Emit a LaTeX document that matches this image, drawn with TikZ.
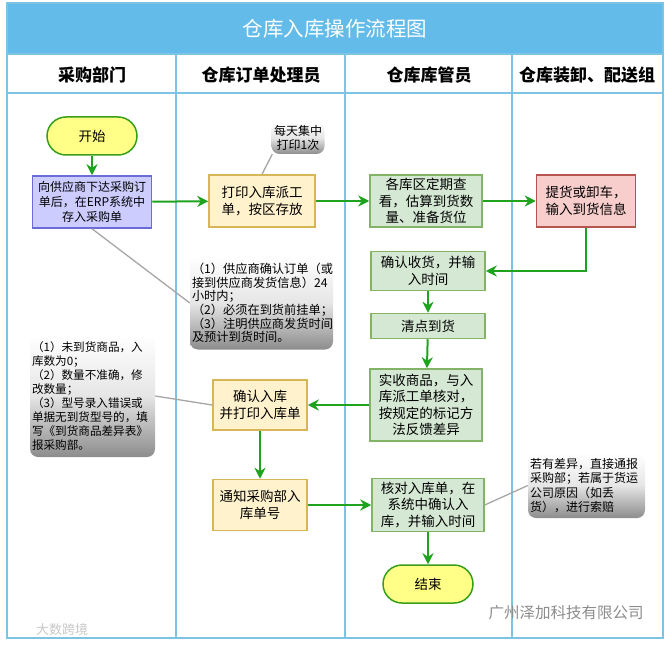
\documentclass[tikz,border=0pt]{standalone}
\usepackage{fontspec}
\setmainfont{Noto Sans CJK SC}
\usetikzlibrary{arrows.meta,shadings}
\definecolor{lane}{HTML}{7CC3E4}
\definecolor{titleblue}{HTML}{62BBE8}
\definecolor{flowgreen}{HTML}{1FA31F}
\definecolor{bluefill}{HTML}{CCCCFF}
\definecolor{blueline}{HTML}{6C6CD9}
\definecolor{yelfill}{HTML}{FFF2CC}
\definecolor{yelline}{HTML}{D6B656}
\definecolor{grnfill}{HTML}{D5E8D4}
\definecolor{grnline}{HTML}{82B366}
\definecolor{redfill}{HTML}{F8CECC}
\definecolor{redline}{HTML}{B85450}
\definecolor{termfill}{HTML}{FFFF88}
\definecolor{termline}{HTML}{3A9E1A}
\definecolor{noteline}{HTML}{A6A6A6}
\begin{document}
\begin{tikzpicture}[x=1pt,y=-1pt,
  lanel/.style={draw=lane,line width=1.6pt},
  box/.style={draw,line width=1.5pt,align=center,inner sep=2pt,
    font=\fontsize{13.5}{16.5}\selectfont},
  ybox/.style={box,fill=yelfill,draw=yelline},
  gbox/.style={box,fill=grnfill,draw=grnline},
  term/.style={draw=termline,fill=termfill,line width=1.5pt,rounded corners=19pt,
    minimum width=90pt,minimum height=38pt,font=\fontsize{13.5}{16}\selectfont},
  note/.style={rounded corners=8pt,top color=white,bottom color=black!45,
    middle color=black!10,align=left,inner sep=2pt},
  flow/.style={draw=flowgreen,line width=2pt,-{Stealth[length=11pt,width=11pt,inset=3.5pt]}},
  tie/.style={draw=noteline,line width=1.3pt},
  head/.style={font=\fontsize{17}{20}\selectfont\bfseries}
]
\useasboundingbox (0,0) rectangle (668,644);
% frame and lanes
\fill[titleblue] (7,3) rectangle (663,54);
\node[text=white,font=\fontsize{20.5}{24}\selectfont] (title) at (335,29) {仓库入库操作流程图};
\draw[lanel] (7,3) rectangle (663,638);
\draw[lanel] (7,54) -- (663,54);
\draw[lanel] (7,93) -- (663,93);
\draw[lanel] (176,54) -- (176,638);
\draw[lanel] (345,54) -- (345,638);
\draw[lanel] (512,54) -- (512,638);
\node[head] (h1) at (92,75) {采购部门};
\node[head] (h2) at (261,75) {仓库订单处理员};
\node[head] (h3) at (429,75) {仓库库管员};
\node[head] (h4) at (587,75) {仓库装卸、配送组};

% nodes
\node[term] (start) at (92,136) {开始};
\node[box,fill=bluefill,draw=blueline,minimum width=119pt,minimum height=52pt,
  font=\fontsize{12}{15}\selectfont] (order) at (92,202)
  {向供应商下达采购订\\单后，在ERP系统中\\存入采购单};
\node[ybox,minimum width=106pt,minimum height=52pt] (print) at (262,201)
  {打印入库派工\\单，按区存放};
\node[gbox,minimum width=112pt,minimum height=52pt] (check) at (426,201)
  {各库区定期查\\看，估算到货数\\量、准备货位};
\node[box,fill=redfill,draw=redline,minimum width=99pt,minimum height=52pt] (unload) at (586,201)
  {提货或卸车，\\输入到货信息};
\node[gbox,minimum width=114pt,minimum height=39pt] (receive) at (428,271)
  {确认收货，并输\\入时间};
\node[gbox,minimum width=114pt,minimum height=25pt] (count) at (428,326)
  {清点到货};
\node[gbox,minimum width=112pt,minimum height=72pt] (actual) at (426,405)
  {实收商品，与入\\库派工单核对，\\按规定的标记方\\法反馈差异};
\node[gbox,minimum width=112pt,minimum height=53pt] (verify) at (428,505)
  {核对入库单，在\\系统中确认入\\库，并输入时间};
\node[term] (end) at (428,584) {结束};
\node[ybox,minimum width=94pt,minimum height=50pt] (confirm) at (260,405)
  {确认入库\\并打印入库单};
\node[ybox,minimum width=94pt,minimum height=51pt] (notify) at (260,505)
  {通知采购部入\\库单号};

% notes
\node[note,minimum width=53pt,minimum height=32pt,align=center,
  font=\fontsize{12}{14}\selectfont] (n0) at (298,138) {每天集中\\打印1次};
\node[note,text width=139pt,minimum height=93pt,
  font=\fontsize{12.2}{13.7}\selectfont] (n1) at (261.5,303)
  {（1）供应商确认订单（或\\接到供应商发货信息）24\\小时内；\\（2）必须在到货前挂单；\\（3）注明供应商发货时间\\及预计到货时间。};
\node[note,text width=121pt,minimum height=122pt,
  font=\fontsize{11.6}{13.9}\selectfont] (n2) at (92.5,396)
  {（1）未到货商品，入\\库数为0；\\（2）数量不准确，修\\改数量；\\（3）型号录入错误或\\单据无到货型号的，填\\写《到货商品差异表》\\报采购部。};
\node[note,text width=113pt,minimum height=65pt,
  font=\fontsize{12}{14.3}\selectfont] (n3) at (586.5,485.5)
  {若有差异，直接通报\\采购部；若属于货运\\公司原因（如丢\\货），进行索赔};

% note ties
\draw[tie] (print.north) -- ([xshift=1pt]n0.south west);
\draw[tie] (order.south) -- (n1.west);
\draw[tie] (confirm.west) -- (n2.east);
\draw[tie] (verify.east) -- (n3.west);

% flow
\draw[flow] (start) -- (order);
\draw[flow] (order) -- (print);
\draw[flow] (print) -- (check);
\draw[flow] (check) -- (unload);
\draw[flow] (unload.south) |- (receive.east);
\draw[flow] (receive) -- (count);
\draw[flow] (count) -- (actual);
\draw[flow] (actual) -- (confirm);
\draw[flow] (confirm) -- (notify);
\draw[flow] (notify) -- (verify);
\draw[flow] (verify) -- (end);

% watermarks
\node[text=black!45,font=\fontsize{15.5}{18}\selectfont] (wm1) at (566,613) {广州泽加科技有限公司};
\node[text=black!22,font=\fontsize{13}{15}\selectfont] (wm2) at (62,630) {大数跨境};
\end{tikzpicture}
\end{document}
